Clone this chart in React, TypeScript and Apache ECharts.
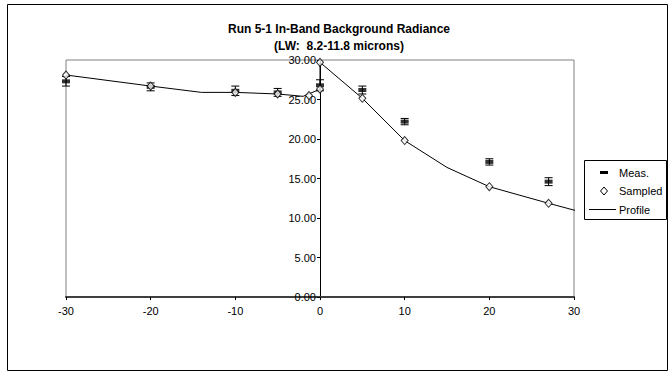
import React, { useEffect, useRef } from "react";
import * as echarts from "echarts";

const titleLines = ["Run 5-1 In-Band Background Radiance", "(LW:  8.2-11.8 microns)"];
const xTicks = [-30, -20, -10, 0, 10, 20, 30];
const profileX = [-30, -20, -14, -10, -5, -2, 0, 0, 5, 10, 15, 20, 27, 30, 32];
const profileY = [28.1, 26.7, 25.9, 25.9, 25.7, 25.4, 26.3, 29.7, 25.15, 19.8, 16.4, 13.96, 11.86, 11.0, 10.6];
const sampledX = [-30, -20, -10, -5, -1.3, 0, 0, 5, 10, 20, 27];
const sampledY = [28.1, 26.7, 25.9, 25.7, 25.5, 26.3, 29.7, 25.15, 19.8, 13.96, 11.86];
const measX = [-30, -20, -10, -5, 0, 5, 10, 20, 27];
const measY = [27.3, 26.6, 26.1, 25.9, 26.8, 26.2, 22.2, 17.1, 14.6];
const measErr = [0.6, 0.5, 0.6, 0.5, 0.7, 0.5, 0.4, 0.4, 0.5];
const legendNames = ["Meas.", "Sampled", "Profile"];

export default function App() {
  const ref = useRef<HTMLDivElement>(null);
  useEffect(() => {
    if (!ref.current) return;
    const chart = echarts.init(ref.current, null, { renderer: "svg" });
    const font = "Arial, 'Liberation Sans', sans-serif";
    const profile = profileX.map((x, i) => [x, profileY[i]]);
    const sampled = sampledX.map((x, i) => [x, sampledY[i]]);
    const meas = measX.map((x, i) => [x, measY[i]]);
    const errs = measX.map((x, i) => [x, measY[i], measErr[i]]);
    const lx = 584, ly = 160;
    const gridLeft = 66, gridWidth = 508;
    chart.setOption({
      animation: false,
      backgroundColor: "#fff",
      grid: {
        left: gridLeft, width: gridWidth, top: 60, bottom: 76,
        show: true, borderColor: "#808080", borderWidth: 1,
      },
      xAxis: {
        type: "value", min: -30, max: 30, interval: 10,
        axisLine: { onZero: false, lineStyle: { color: "#404040", width: 2 } },
        axisTick: { show: true, length: 3, lineStyle: { color: "#000" } },
        axisLabel: { color: "#000", fontSize: 11, fontFamily: font, margin: 8,
          formatter: (v: number) => (xTicks.includes(v) ? String(v) : "") },
        splitLine: { show: false },
      },
      yAxis: {
        type: "value", min: 0, max: 30, interval: 5, position: "left",
        offset: -gridWidth / 2,
        axisLine: { show: true, onZero: false, lineStyle: { color: "#000", width: 1 } },
        axisTick: { show: true, length: 3, lineStyle: { color: "#000" } },
        axisLabel: { color: "#000", fontSize: 11, fontFamily: font, margin: 4,
          formatter: (v: number) => v.toFixed(2) },
        splitLine: { show: false },
      },
      series: [
        {
          type: "line", name: "Profile", data: profile, showSymbol: false, symbol: "none",
          lineStyle: { color: "#000", width: 1 }, clip: false, z: 2,
        },
        {
          type: "custom", name: "err", data: errs, z: 3,
          renderItem: (params: any, api: any) => {
            const x = api.value(0), y = api.value(1), e = api.value(2);
            const top = api.coord([x, y + e]);
            const bot = api.coord([x, y - e]);
            const hw = 4;
            const st = { stroke: "#000", lineWidth: 1 };
            return {
              type: "group",
              children: [
                { type: "line", shape: { x1: top[0], y1: top[1], x2: bot[0], y2: bot[1] }, style: st },
                { type: "line", shape: { x1: top[0] - hw, y1: top[1], x2: top[0] + hw, y2: top[1] }, style: st },
                { type: "line", shape: { x1: bot[0] - hw, y1: bot[1], x2: bot[0] + hw, y2: bot[1] }, style: st },
              ],
            };
          },
        },
        {
          type: "scatter", name: "Meas.", data: meas, symbol: "rect", symbolSize: [8, 4],
          itemStyle: { color: "#000" }, z: 4,
        },
        {
          type: "scatter", name: "Sampled", data: sampled, symbol: "diamond", symbolSize: [7, 8],
          itemStyle: { color: "#fff", borderColor: "#000", borderWidth: 1 }, z: 5,
        },
      ],
      graphic: [
        { type: "rect", z: 0, silent: true, shape: { x: 7.5, y: 4.5, width: 660, height: 366 },
          style: { fill: "none", stroke: "#000", lineWidth: 1 } },
        { type: "text", x: 339, y: 29, style: { text: titleLines[0], font: `bold 12px ${font}`, fill: "#000", align: "center", verticalAlign: "middle" } },
        { type: "text", x: 339, y: 46, style: { text: titleLines[1], font: `bold 12px ${font}`, fill: "#000", align: "center", verticalAlign: "middle" } },
        { type: "rect", z: 100, shape: { x: lx + 0.5, y: ly + 0.5, width: 82, height: 59 },
          style: { fill: "#fff", stroke: "#000", lineWidth: 1 } },
        { type: "rect", z: 101, shape: { x: lx + 16, y: ly + 11, width: 8, height: 3 }, style: { fill: "#000" } },
        { type: "polygon", z: 101, shape: { points: [[lx + 20, ly + 27], [lx + 23.5, ly + 31], [lx + 20, ly + 35], [lx + 16.5, ly + 31]] },
          style: { fill: "#fff", stroke: "#000", lineWidth: 1 } },
        { type: "line", z: 101, shape: { x1: lx + 5, y1: ly + 49.5, x2: lx + 32, y2: ly + 49.5 }, style: { stroke: "#000", lineWidth: 1 } },
        { type: "text", z: 101, x: lx + 35, y: ly + 12.5, style: { text: legendNames[0], font: `11px ${font}`, fill: "#000", verticalAlign: "middle" } },
        { type: "text", z: 101, x: lx + 35, y: ly + 30.5, style: { text: legendNames[1], font: `11px ${font}`, fill: "#000", verticalAlign: "middle" } },
        { type: "text", z: 101, x: lx + 35, y: ly + 49.5, style: { text: legendNames[2], font: `11px ${font}`, fill: "#000", verticalAlign: "middle" } },
      ],
    });
    return () => chart.dispose();
  }, []);
  return <div ref={ref} style={{ position: "fixed", left: 0, top: 0, width: 669, height: 373 }} />;
}
